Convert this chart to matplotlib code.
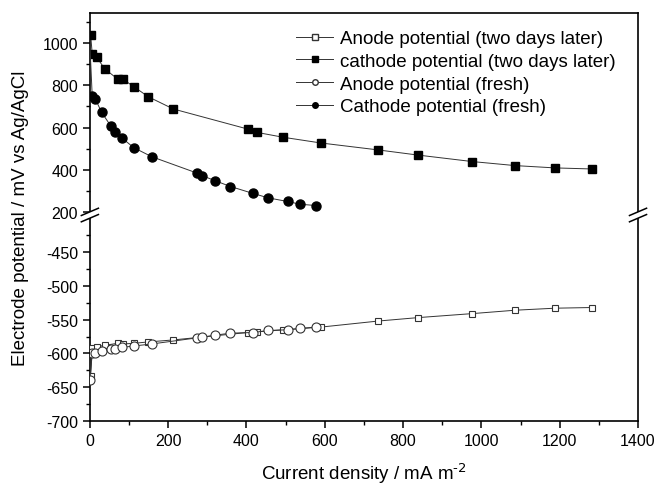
import matplotlib.pyplot as plt
from matplotlib.lines import Line2D
from matplotlib.ticker import MultipleLocator

plt.rcParams['font.family'] = ['Liberation Sans', 'DejaVu Sans']
plt.rcParams['axes.unicode_minus'] = False
plt.rcParams['mathtext.default'] = 'regular'

# cathode, two days later
cat2_x = [2, 6, 17, 38, 71, 85, 112, 149, 213, 403, 427, 494, 590, 737, 837, 977, 1086, 1188, 1282]
cat2_y = [1038, 948, 935, 877, 830, 828, 794, 746, 688, 593, 577, 554, 527, 494, 470, 439, 420, 409, 404]
# anode, two days later
an2_x = [2, 6, 17, 38, 71, 85, 112, 149, 213, 403, 427, 494, 590, 737, 837, 977, 1086, 1188, 1282]
an2_y = [-633, -592, -590, -588, -585, -586, -585, -583, -580, -569, -568, -565, -561, -552, -547, -541, -536, -533, -532]
# fresh
fr_x = [0, 6, 14, 30, 54, 64, 83, 112, 158, 273, 286, 319, 359, 417, 456, 505, 537, 577]
catf_y = [995, 748, 735, 672, 606, 578, 549, 505, 462, 385, 373, 349, 321, 288, 267, 250, 237, 231]
anf_y = [-639, -600, -599, -596, -594, -593, -591, -589, -586, -577, -576, -573, -570, -569, -566, -565, -563, -561]

labels = ['Anode potential (two days later)', 'cathode potential (two days later)',
          'Anode potential (fresh)', 'Cathode potential (fresh)']

fig = plt.figure(figsize=(6.56, 4.85), dpi=100)
L, R, B, T, MID = 0.137, 0.9726, 0.13, 0.971, 0.5546
ax_top = fig.add_axes([L, MID, R - L, T - MID])
ax_bot = fig.add_axes([L, B, R - L, MID - B], sharex=ax_top)

lc = '#333333'
lw = 0.7
ax_top.plot(cat2_x, cat2_y, '-', color=lc, lw=lw, marker='s', ms=5.5, mfc='black', mec='black', zorder=3)
ax_top.plot(fr_x, catf_y, '-', color=lc, lw=lw, marker='o', ms=6.5, mfc='black', mec='black',
            markevery=list(range(1, len(fr_x))), zorder=3)
ax_bot.plot(an2_x, an2_y, '-', color=lc, lw=lw, marker='s', ms=4.8, mfc='white', mec='#333333', mew=0.8, zorder=3)
ax_bot.plot(fr_x, anf_y, '-', color=lc, lw=lw, marker='o', ms=6.5, mfc='white', mec='#333333', mew=0.8, zorder=3)

ax_top.set_ylim(186, 1142)
ax_bot.set_ylim(-700, -395)
ax_bot.set_xlim(0, 1400)

ax_top.set_yticks([200, 400, 600, 800, 1000])
ax_top.yaxis.set_minor_locator(MultipleLocator(100))
ax_bot.set_yticks([-700, -650, -600, -550, -500, -450])
ax_bot.yaxis.set_minor_locator(MultipleLocator(25))
ax_bot.xaxis.set_major_locator(MultipleLocator(200))
ax_bot.xaxis.set_minor_locator(MultipleLocator(100))

for ax in (ax_top, ax_bot):
    for s in ax.spines.values():
        s.set_linewidth(1.2)
    ax.tick_params(which='major', direction='out', length=5, width=1.1, labelsize=11.5,
                   top=False, right=False)
    ax.tick_params(which='minor', direction='out', length=3, width=1.0, top=False, right=False)

ax_top.spines['bottom'].set_visible(False)
ax_bot.spines['top'].set_visible(False)
ax_top.tick_params(axis='x', which='both', bottom=False, labelbottom=False)

ax_bot.set_xlabel(r'Current density / mA m$^{\text{-2}}$', fontsize=13.5, labelpad=9)
fig.text(0.032, (B + T) / 2, 'Electrode potential / mV vs Ag/AgCl', rotation=90,
         ha='center', va='center', fontsize=13.5)

# break marks on both spines
dx, dy, off = 0.013, 0.0075, 0.0065
for xf in (L, R):
    fig.patches.append(plt.Polygon([[xf - dx, MID - dy - off], [xf + dx, MID + dy - off],
                                    [xf + dx, MID + dy + off], [xf - dx, MID - dy + off]],
                                   closed=True, facecolor='white', edgecolor='none',
                                   transform=fig.transFigure, zorder=5))
    for o in (-off, off):
        fig.lines.append(Line2D([xf - dx, xf + dx], [MID - dy + o, MID + dy + o],
                                transform=fig.transFigure, color='black', lw=1.1, zorder=6))

handles = [
    Line2D([], [], color=lc, lw=lw, marker='s', ms=4, mfc='white', mec='#333333'),
    Line2D([], [], color=lc, lw=lw, marker='s', ms=4, mfc='black', mec='black'),
    Line2D([], [], color=lc, lw=lw, marker='o', ms=4, mfc='white', mec='#333333'),
    Line2D([], [], color=lc, lw=lw, marker='o', ms=4, mfc='black', mec='black'),
]
ax_top.legend(handles, labels, loc='upper right', frameon=False, fontsize=13.5,
              handlelength=2.0, handletextpad=0.35, labelspacing=0.3,
              bbox_to_anchor=(0.99, 1.0))

fig.savefig('out.png', dpi=100)
